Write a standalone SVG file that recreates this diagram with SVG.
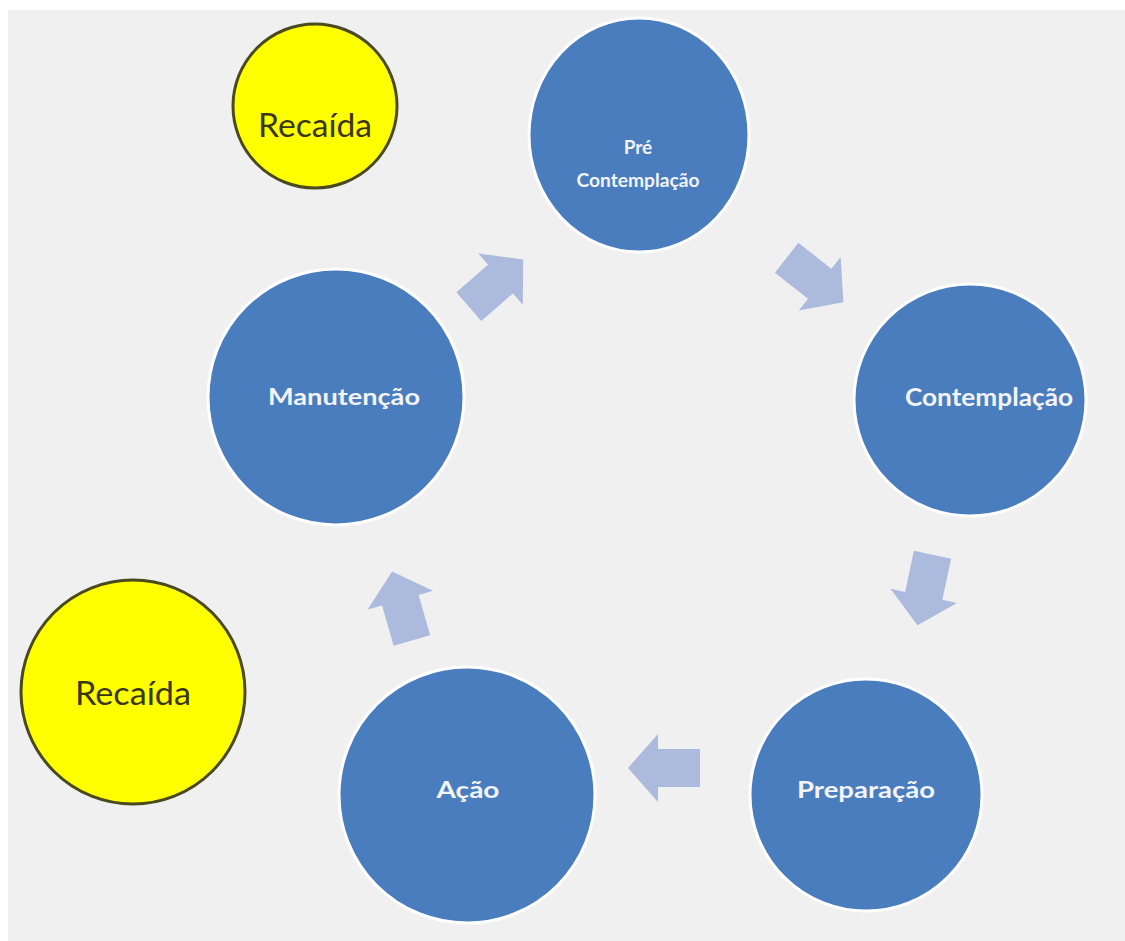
<svg xmlns="http://www.w3.org/2000/svg" width="1125" height="941" viewBox="0 0 1125 941">
<defs>
<style>
.stage{fill:#4a7dbd;stroke:#ffffff;stroke-width:3}
.relapse{fill:#ffff00;stroke:#4a4a1e;stroke-width:3}
.lbl{font-family:Lato,"Liberation Sans",sans-serif;font-weight:bold;fill:#f2f4fa;text-anchor:middle}
.rlbl{font-family:Lato,"Liberation Sans",sans-serif;font-size:33px;fill:#3a3610;text-anchor:middle}
.arrow{fill:#acbadd}
</style>
<path id="blk" d="M-36,-19 L6,-19 L6,-34 L36,0 L6,34 L6,19 L-36,19 Z"/>
</defs>
<rect x="0" y="0" width="1125" height="941" fill="#ffffff"/>
<rect x="8" y="10" width="1117" height="931" fill="#f0f0f0"/>
<g id="connectors">
<use href="#blk" class="arrow" transform="translate(496,283) rotate(-41)"/>
<use href="#blk" class="arrow" transform="translate(815,280) rotate(38)"/>
<use href="#blk" class="arrow" transform="translate(925,590) rotate(102)"/>
<use href="#blk" class="arrow" transform="translate(664,768) rotate(180)"/>
<use href="#blk" class="arrow" transform="translate(402,606) rotate(-106)"/>
</g>
<g id="pre">
<ellipse class="stage" cx="639" cy="135" rx="110" ry="117"/>
<text class="lbl" x="638" y="154" font-size="19">Pré</text>
<text class="lbl" x="638" y="187" font-size="19" textLength="123" lengthAdjust="spacingAndGlyphs">Contemplação</text>
</g>
<g id="contemplacao">
<circle class="stage" cx="970" cy="400" r="116"/>
<text class="lbl" x="989" y="406" font-size="24" textLength="168" lengthAdjust="spacingAndGlyphs">Contemplação</text>
</g>
<g id="preparacao">
<circle class="stage" cx="866" cy="795" r="116"/>
<text class="lbl" x="866" y="798" font-size="23" textLength="138" lengthAdjust="spacingAndGlyphs">Preparação</text>
</g>
<g id="acao">
<circle class="stage" cx="467" cy="795" r="128"/>
<text class="lbl" x="468" y="798" font-size="23" textLength="63" lengthAdjust="spacingAndGlyphs">Ação</text>
</g>
<g id="manutencao">
<circle class="stage" cx="336" cy="397" r="128"/>
<text class="lbl" x="344" y="405" font-size="23" textLength="152" lengthAdjust="spacingAndGlyphs">Manutenção</text>
</g>
<g id="recaida1">
<circle class="relapse" cx="315" cy="106" r="82"/>
<text class="rlbl" x="315" y="137" textLength="114" lengthAdjust="spacingAndGlyphs">Recaída</text>
</g>
<g id="recaida2">
<circle class="relapse" cx="133" cy="692" r="112"/>
<text class="rlbl" x="133" y="705" textLength="116" lengthAdjust="spacingAndGlyphs">Recaída</text>
</g>
</svg>
